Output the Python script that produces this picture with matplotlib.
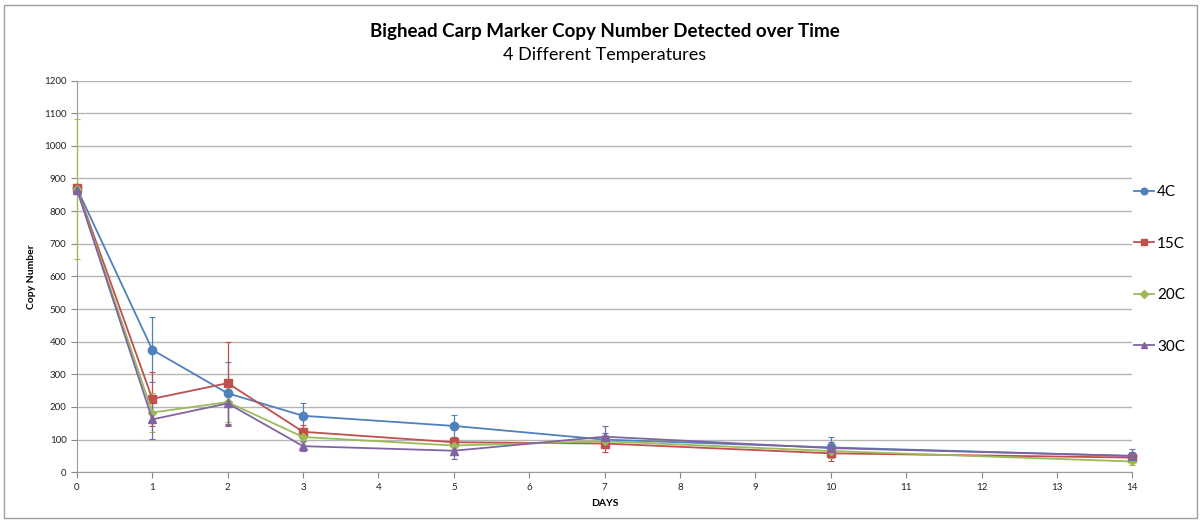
import numpy as np
import matplotlib.pyplot as plt
from matplotlib.patches import Rectangle
from matplotlib.lines import Line2D

# data
days = [0, 1, 2, 3, 5, 7, 10, 14]
series_names = ['4C', '15C', '20C', '30C']
c4 = [870, 375, 242, 173, 142, 100, 76, 50]
c15 = [870, 225, 273, 124, 92, 88, 58, 45]
c20 = [868, 183, 215, 108, 82, 95, 65, 33]
c30 = [866, 162, 211, 80, 66, 109, 74, 50]
err4 = [0, 100, 95, 38, 34, 20, 32, 12]
err15 = [0, 83, 127, 20, 15, 25, 25, 10]
err20 = [215, 60, 60, 15, 15, 20, 20, 10]
err30 = [0, 60, 70, 15, 25, 32, 20, 20]

colors = ['#4F81BD', '#C0504D', '#9BBB59', '#8064A2']
markers = ['o', 's', 'D', '^']
msizes = [6, 6, 4.5, 6]

plt.rcParams['font.family'] = ['Lato', 'DejaVu Sans']

fig = plt.figure(figsize=(12.02, 5.23), dpi=100)
ax = fig.add_axes([0.064, 0.097, 0.878, 0.749])

# outer frame of the chart area
fig.patches.append(Rectangle((0.003, 0.01), 0.993, 0.98, transform=fig.transFigure,
                             fill=False, edgecolor='#a0a0a0', linewidth=1.0))

handles = []
for vals, errs, name, col, mk, ms in zip([c4, c15, c20, c30], [err4, err15, err20, err30],
                                          series_names, colors, markers, msizes):
    cont = ax.errorbar(days, vals, yerr=errs, color=col, ecolor=col, elinewidth=0.9,
                       capsize=2, capthick=0.8, linewidth=1.3, marker=mk, markersize=ms,
                       markeredgecolor=col, zorder=3)
    for art in cont.get_children():
        art.set_clip_on(False)
    handles.append(Line2D([], [], color=col, marker=mk, markersize=ms * 0.8,
                          linewidth=1.3, label=name))

ax.set_xlim(0, 14)
ax.set_ylim(0, 1200)
ax.set_xticks(range(0, 15))
ax.set_yticks(range(0, 1201, 100))
ax.tick_params(axis='both', labelsize=7, colors='#888888', labelcolor='#222222',
               direction='out', length=4)
ax.grid(axis='y', color='#b5b5b5', linewidth=1.0)
ax.set_axisbelow(True)
for s in ['top', 'right']:
    ax.spines[s].set_visible(False)
for s in ['left', 'bottom']:
    ax.spines[s].set_color('#999999')

ax.set_ylabel('Copy Number', fontsize=7.5, fontweight='bold', labelpad=6)
ax.set_xlabel('DAYS', fontsize=7.5, fontweight='bold', labelpad=5)

fig.text(0.503, 0.94, 'Bighead Carp Marker Copy Number Detected over Time',
         ha='center', va='center', fontsize=13.5, fontweight='bold')
fig.text(0.503, 0.895, '4 Different Temperatures', ha='center', va='center', fontsize=13)

ax.legend(handles=handles, loc='upper left', bbox_to_anchor=(0.932, 0.672),
          bbox_transform=fig.transFigure, frameon=False, fontsize=11,
          handlelength=1.3, handletextpad=0.2, labelspacing=2.45)

fig.savefig('out.png', dpi=100)
